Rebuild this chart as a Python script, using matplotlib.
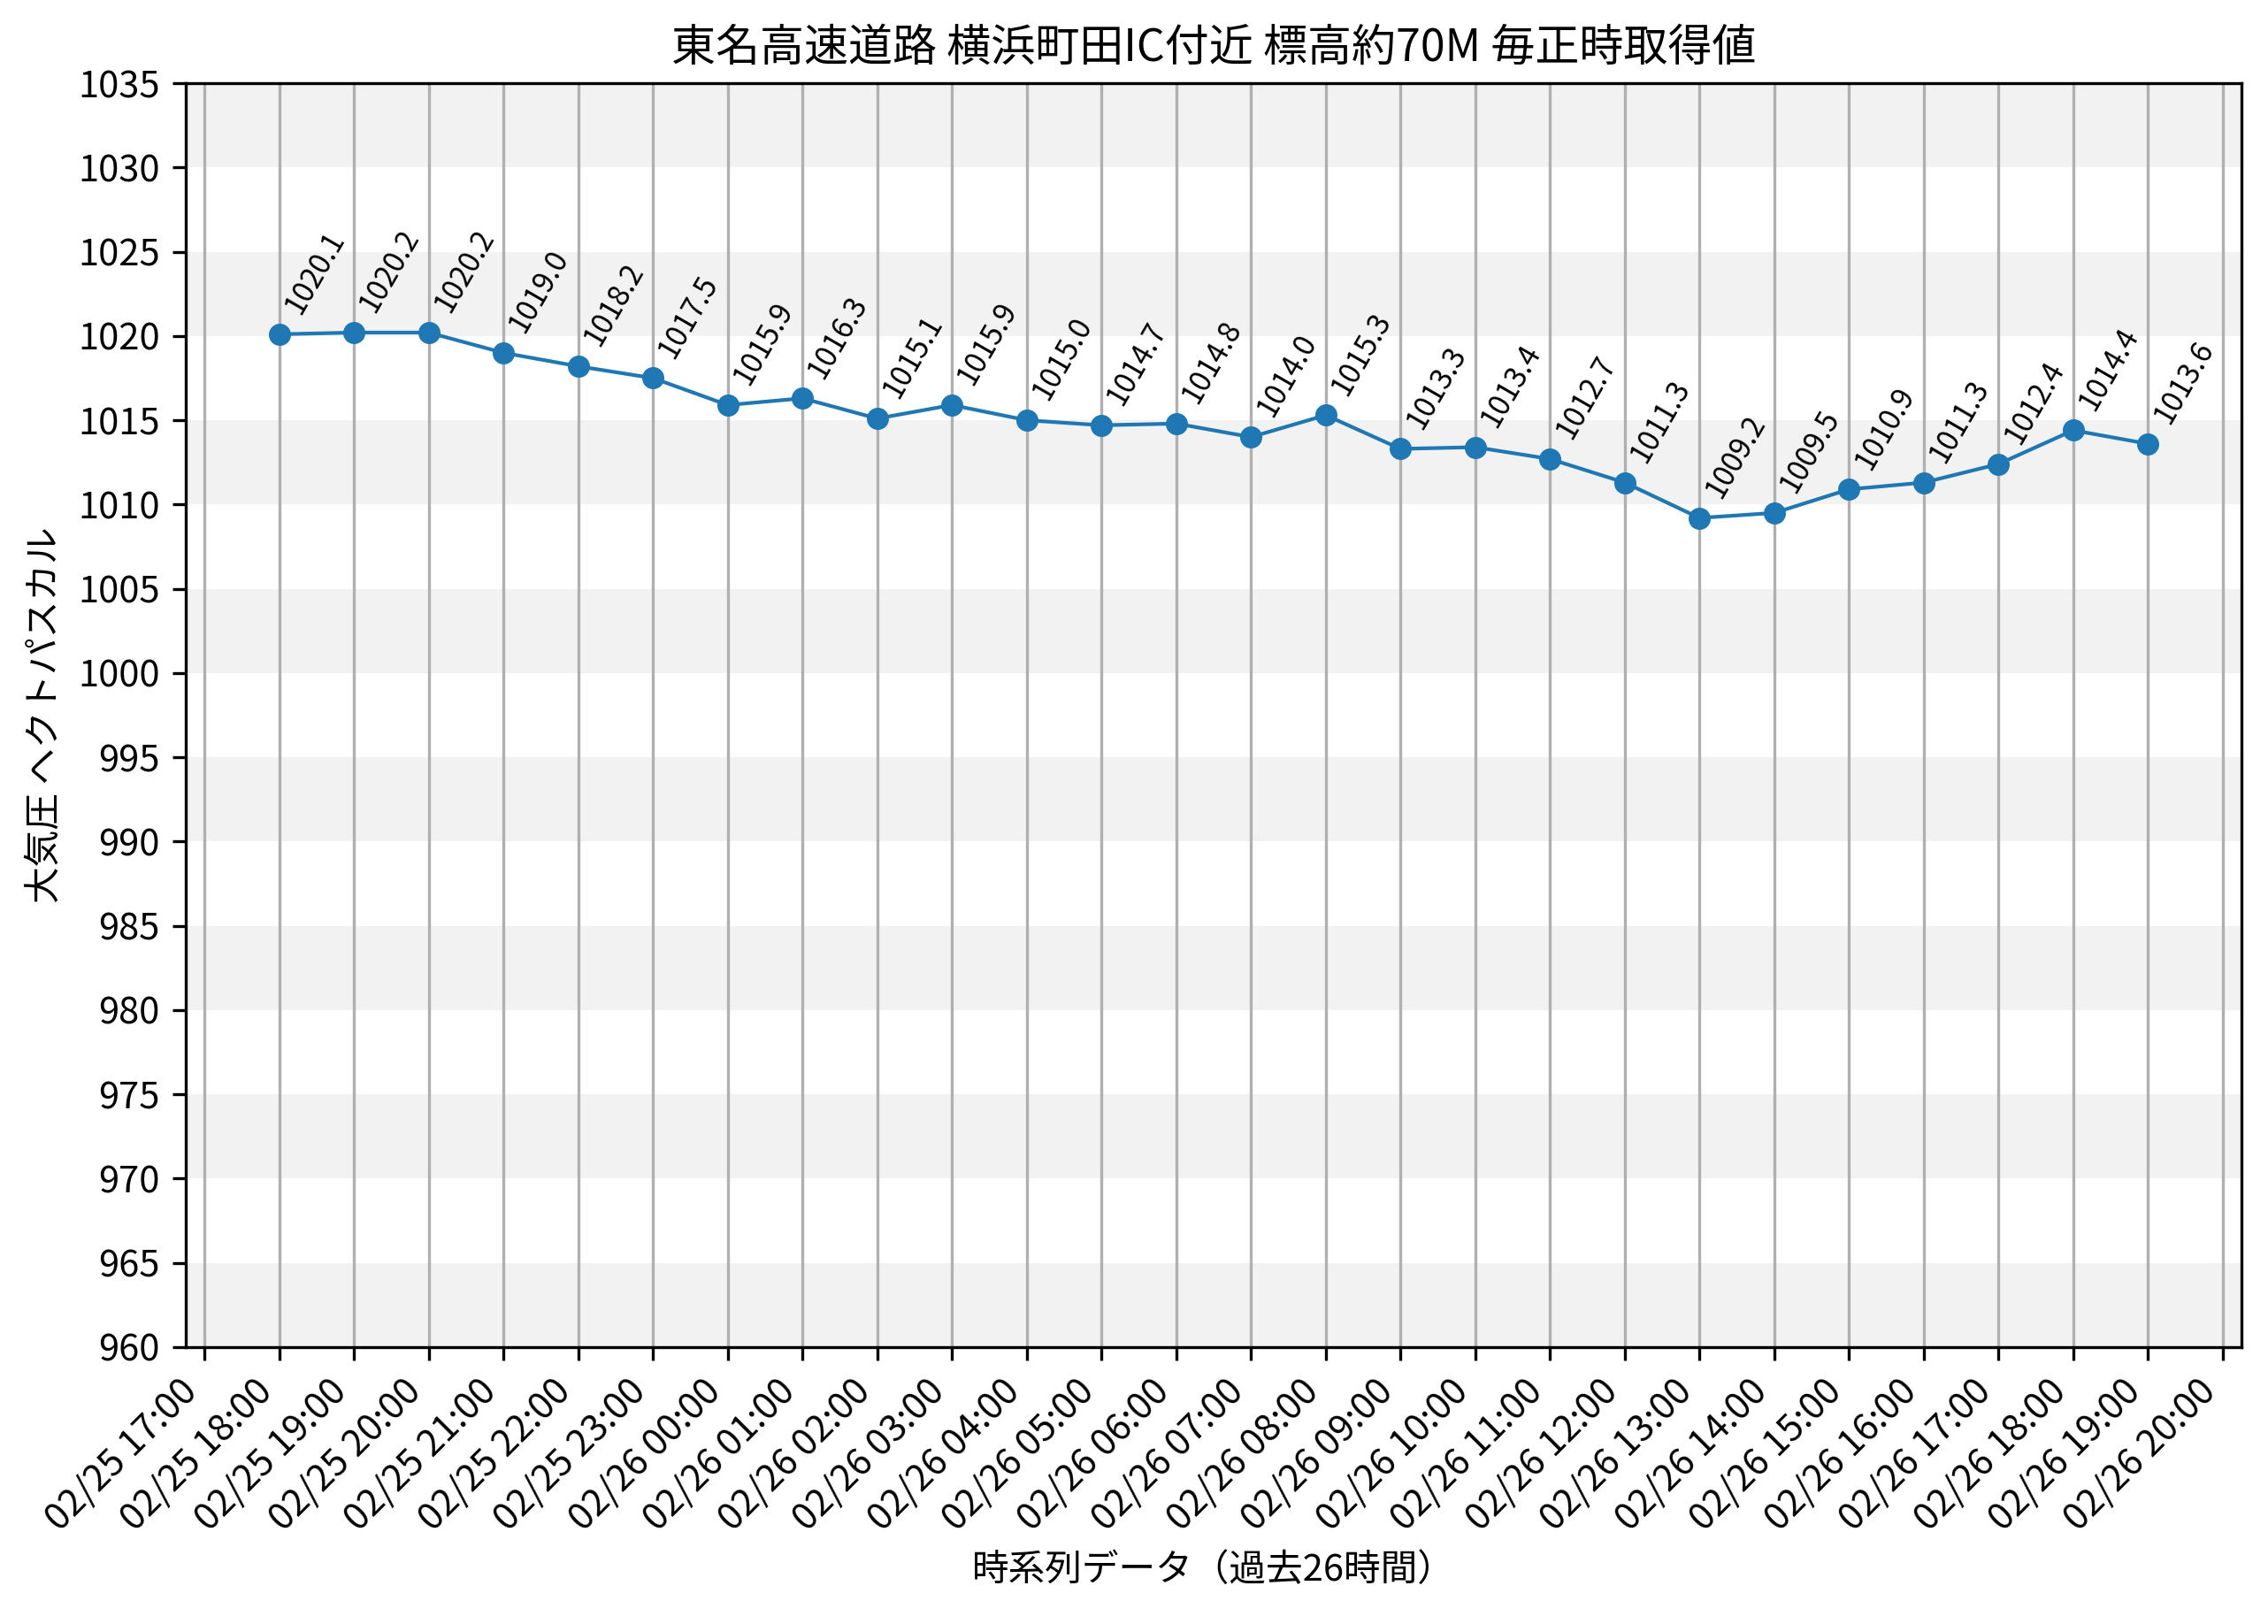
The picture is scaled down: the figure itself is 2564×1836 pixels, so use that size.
import numpy as np
import pandas as pd
import matplotlib
matplotlib.use("Agg")
import matplotlib.pyplot as plt
import matplotlib.dates as mdates

plt.rcParams['font.family'] = ['Noto Sans CJK JP', 'DejaVu Sans']

# 毎正時の気圧データ
start_time = "2025-02-25 18:00"
pressure = [1020.1, 1020.2, 1020.2, 1019.0, 1018.2, 1017.5, 1015.9, 1016.3,
            1015.1, 1015.9, 1015.0, 1014.7, 1014.8, 1014.0, 1015.3, 1013.3,
            1013.4, 1012.7, 1011.3, 1009.2, 1009.5, 1010.9, 1011.3, 1012.4,
            1014.4, 1013.6]
times = pd.date_range(start_time, periods=len(pressure), freq="h")

y_min, y_max, y_step = 960, 1035, 5

title = "東名高速道路 横浜町田IC付近 標高約70M 毎正時取得値"
xlabel = "時系列データ（過去26時間）"
ylabel = "大気圧 ヘクトパスカル"

fig, ax = plt.subplots(figsize=(2564 / 300, 1836 / 300), dpi=300)
fig.subplots_adjust(left=0.0819, right=0.9883, top=0.9488, bottom=0.1705)

# 背景の縞模様
for i, lo in enumerate(range(y_min, y_max, y_step)):
    if i % 2 == 0:
        ax.axhspan(lo, lo + y_step, color="#f2f2f2", zorder=0, lw=0)

ax.plot(times, pressure, marker="o", color="#1f77b4", lw=1, markersize=5, zorder=3)

for t, p in zip(times, pressure):
    ax.annotate(f"{p:.1f}", (t, p), textcoords="offset points", xytext=(0, 4),
                ha="left", va="bottom", rotation=60, fontsize=8)

ax.set_ylim(y_min, y_max)
ax.set_yticks(np.arange(y_min, y_max + 1, y_step))
ax.xaxis.set_major_locator(mdates.HourLocator(interval=1))
ax.xaxis.set_major_formatter(mdates.DateFormatter("%m/%d %H:%M"))
plt.setp(ax.get_xticklabels(), rotation=45, ha="right")
ax.grid(axis="x", color="#b0b0b0", lw=0.8)
ax.set_axisbelow(True)

ax.set_title(title, fontsize=12)
ax.set_xlabel(xlabel, fontsize=10)
ax.set_ylabel(ylabel, fontsize=10)

fig.savefig("out.png", dpi=300)
